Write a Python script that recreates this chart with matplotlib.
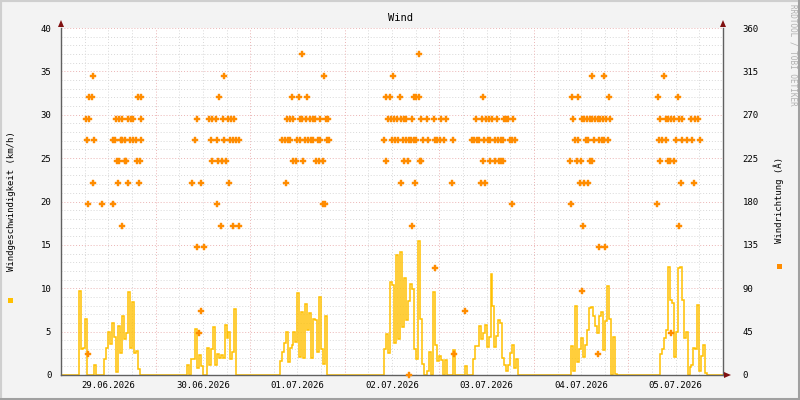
import numpy as np
import matplotlib
matplotlib.use("Agg")
import matplotlib.pyplot as plt
from matplotlib.patches import Rectangle, Polygon

# ---------------- data ----------------
title = "Wind"
left_label = "Windgeschwindigkeit (km/h)"
right_label = "Windrichtung (Â)"
day_labels = ["29.06.2026", "30.06.2026", "01.07.2026", "02.07.2026",
              "03.07.2026", "04.07.2026", "05.07.2026"]

# wind speed (km/h), half-hourly values per day (00:00 .. 23:30)
speed_29_06 = [0]*9 + [9.7, 3.0, 3.1, 6.5, 0, 0, 0, 0, 1.2, 0, 0, 0, 0, 1.8, 3.1, 4.9, 3.6,
                       6.0, 4.4, 0.3, 5.6, 2.5, 6.8, 4.1, 4.8, 9.6, 3.1, 8.4, 2.5, 2.8, 0.7] + [0]*8
speed_30_06 = [0]*16 + [1.2, 0, 1.9, 1.9, 5.3, 0.8, 2.3, 1.0, 0, 0, 3.1, 1.2, 3.0, 5.5, 1.2, 2.4,
                        2.0, 2.3, 2.0, 5.8, 4.3, 5.0, 1.8, 2.7, 7.6] + [0]*7
speed_01_07 = [0]*15 + [1.6, 2.6, 3.7, 5.0, 1.5, 3.1, 3.5, 4.9, 3.8, 9.4, 2.1, 7.3, 2.0, 8.2, 5.2,
                        7.1, 2.0, 6.5, 6.3, 2.6, 9.0, 3.0, 1.3, 6.8] + [0]*9
speed_02_07 = [0]*20 + [3.0, 4.7, 2.5, 10.7, 10.4, 3.7, 13.8, 4.1, 14.2, 5.5, 11.2, 6.3, 8.5, 10.5,
                        9.9, 3.0, 1.8, 15.5, 6.5, 1.3, 0, 0, 0.5, 2.6, 0, 9.6, 3.5, 1.6]
speed_03_07 = [2.2, 1.7, 0, 1.7, 0, 0, 0, 2.9, 0, 0, 0, 0, 0, 1.0, 0, 0, 0, 1.9, 3.3, 3.3, 5.6, 4.1,
               4.8, 5.8, 3.2, 4.4, 11.7, 8.0, 3.2, 4.5, 6.3, 6.0, 2.0, 1.1, 0.5, 1.1, 2.5, 3.5, 0.8,
               1.8] + [0]*8
speed_04_07 = [0]*19 + [3.3, 0.5, 8.0, 1.5, 3.0, 4.3, 2.1, 3.5, 5.2, 7.7, 7.8, 6.8, 5.6, 4.8, 6.8,
                        7.3, 2.9, 6.2, 10.3, 6.5, 0, 4.4, 0.1] + [0]*6
speed_05_07 = [0]*16 + [2.4, 3.0, 4.3, 5.2, 12.5, 8.6, 8.3, 2.1, 5.0, 12.3, 12.4, 8.6, 4.3, 5.0, 0,
                        0.9, 1.2, 3.1, 3.0, 8.1, 0.5, 2.2, 3.5, 0.2] + [0]*8

# wind direction (degrees): {direction: [hour of day, ...]} per day
dir_29_06 = {310: [8.07], 288: [7.23, 7.92, 19.59, 20.42],
             266: [6.22, 7.05, 14.0, 14.84, 15.53, 17.05, 17.89, 18.32, 20.25],
             244: [6.55, 8.32, 13.32, 13.65, 15.1, 15.6, 16.36, 17.56, 18.22, 19.15, 20.25],
             222: [14.16, 14.66, 16.19, 16.54, 19.23, 19.99], 199: [8.07, 14.41, 16.95, 19.74],
             177: [6.8, 10.35, 13.14], 155: [15.42], 22: [6.8]}
dir_30_06 = {310: [17.3], 288: [16.03],
             266: [10.45, 13.67, 14.36, 15.37, 17.05, 18.42, 19.18, 20.02],
             244: [10.12, 14.0, 15.53, 17.48, 18.87, 19.59, 20.35, 21.2],
             222: [14.26, 15.78, 16.8, 17.81], 199: [9.18, 11.47, 18.62], 177: [15.53],
             155: [16.54, 19.59, 21.12], 133: [10.63, 12.41], 66: [11.63], 44: [11.12]}
dir_01_07 = {333: [13.09], 310: [18.67], 288: [10.55, 12.33, 14.36],
             266: [9.39, 10.15, 10.81, 12.58, 13.27, 14.11, 15.22, 15.88, 16.49, 17.66, 19.28, 19.86],
             244: [8.12, 8.88, 9.54, 10.22, 11.82, 12.69, 13.95, 14.61, 15.47, 16.06, 17.15, 17.83,
                   19.53, 20.12],
             222: [10.91, 11.57, 13.35, 16.64, 17.38, 18.52], 199: [9.03], 177: [18.6, 19.1]}
dir_02_07 = {333: [18.77], 310: [12.18], 288: [10.58, 11.42, 14.13, 17.5, 18.19, 18.87],
             266: [10.91, 11.77, 12.61, 13.37, 14.38, 14.97, 15.48, 17.1, 19.28, 20.8, 22.58],
             244: [9.89, 12.1, 12.79, 13.48, 14.8, 15.63, 16.21, 16.82, 17.48, 18.16, 19.76, 21.2,
                   22.9, 23.54],
             222: [10.4, 14.97, 15.99, 19.03, 19.46], 199: [14.2, 17.76], 155: [16.97],
             111: [22.83], 0: [16.21]}
dir_03_07 = {288: [11.01],
             266: [0.36, 1.62, 9.23, 10.76, 11.95, 12.71, 13.4, 14.66, 16.34, 17.02, 17.53, 18.8],
             244: [0.2, 1.12, 3.4, 8.22, 8.9, 9.59, 10.1, 11.26, 12.38, 12.89, 14.16, 14.92, 15.58,
                   16.19, 17.86, 18.54, 19.3],
             222: [11.01, 12.79, 14.16, 15.17, 15.68, 16.19], 199: [3.15, 10.5, 11.52],
             177: [18.37], 66: [6.44], 22: [3.65]}
dir_04_07 = {310: [14.66, 17.71], 288: [9.59, 11.29, 18.98],
             266: [10.02, 12.23, 12.81, 13.5, 14.16, 14.84, 15.53, 16.19, 16.87, 17.56, 18.22, 19.23],
             244: [10.35, 11.21, 13.24, 13.65, 15.17, 16.62, 17.2, 17.71, 18.83],
             222: [9.08, 11.03, 12.05, 14.16, 14.76], 199: [11.82, 12.84, 13.85], 177: [9.33],
             155: [12.38], 133: [16.62, 18.14], 87: [12.3], 22: [16.3]}
dir_05_07 = {310: [8.93], 288: [7.41, 12.48],
             266: [8.09, 9.44, 10.12, 10.81, 11.47, 12.84, 13.5, 15.96, 16.79, 17.66],
             244: [7.76, 8.52, 9.44, 11.97, 13.5, 14.87, 16.14, 18.07],
             222: [8.09, 9.95, 10.63, 11.47], 199: [13.24, 16.54], 177: [7.15], 155: [12.74],
             44: [10.88]}

# ---------------- styling ----------------
BG = "#F3F3F3"
YELLOW = "#FFC000"
ORANGE = "#FF8C00"
MINOR = "#D8D8D8"
MAJOR = "#EBB4B4"
AXIS = "#606060"
ARROW = "#801010"
FONT = "DejaVu Sans Mono"
FS = 6.5
W, H = 800, 400
DOT = (0, (1, 2))

plt.rcParams["font.family"] = [FONT, "DejaVu Sans"]

fig = plt.figure(figsize=(8, 4), dpi=100, facecolor=BG)
L, R, T, B = 61, 723, 28, 375
ax = fig.add_axes([L / W, 1 - B / H, (R - L) / W, (B - T) / H])
ax.set_facecolor("white")

speed = np.concatenate([speed_29_06, speed_30_06, speed_01_07, speed_02_07,
                        speed_03_07, speed_04_07, speed_05_07]).astype(float)
t = np.arange(len(speed) + 1) * 0.5
ax.step(t, np.append(speed, speed[-1]), where="post", color=YELLOW, lw=1.1, zorder=3,
        solid_joinstyle="miter")

ax.set_xlim(0, 168)
ax.set_ylim(0, 40)

# grid
for v in range(1, 40):
    if v % 5:
        ax.axhline(v, color=MINOR, lw=0.7, ls=DOT, zorder=1)
for v in range(5, 41, 5):
    ax.axhline(v, color=MAJOR, lw=0.7, ls=DOT, zorder=1)
for h in range(6, 168, 6):
    if h % 24:
        ax.axvline(h, color=MINOR, lw=0.7, ls=DOT, zorder=1)
for h in range(24, 168, 24):
    ax.axvline(h, color=MAJOR, lw=0.7, ls=DOT, zorder=1)

ax.spines["top"].set_visible(False)
for s in ["left", "right", "bottom"]:
    ax.spines[s].set_color(AXIS)
    ax.spines[s].set_linewidth(1.0)
    ax.spines[s].set_zorder(4)

ax.set_yticks(range(0, 41, 5))
ax.set_yticklabels([str(v) for v in range(0, 41, 5)])
ax.set_xticks([12 + 24 * k for k in range(7)])
ax.set_xticklabels(day_labels)
ax.tick_params(axis="both", length=0, labelsize=FS, colors="black", pad=4)
ax.tick_params(axis="y", pad=7)

ax2 = ax.twinx()
ax2.set_ylim(0, 360)
ax2.set_yticks(range(0, 361, 45))
ax2.tick_params(axis="y", length=0, labelsize=FS, pad=14)
for s in ax2.spines.values():
    s.set_visible(False)

dirs = [dir_29_06, dir_30_06, dir_01_07, dir_02_07, dir_03_07, dir_04_07, dir_05_07]
for d, dd in enumerate(dirs):
    for deg, hours in dd.items():
        ax2.plot([24 * d + h for h in hours], [deg] * len(hours), ls="none", marker="P",
                 ms=4.2, mfc=ORANGE, mec=ORANGE, mew=0.3, zorder=5, clip_on=False)

# titles / labels
fig.text(400 / W, 1 - 18 / H, title, ha="center", va="center", fontsize=7.5)
fig.text(12 / W, 1 - 201 / H, left_label, rotation=90, ha="center", va="center", fontsize=FS)
fig.text(779 / W, 1 - 200 / H, right_label, rotation=90, ha="center", va="center", fontsize=FS)
fig.text(793 / W, 1 - 55 / H, "RRDTOOL / TOBI OETIKER", rotation=270, ha="center", va="center",
         fontsize=5.5, color="#B0B0B0")

# legend squares
fig.patches.append(Rectangle((8 / W, 1 - 303 / H), 5 / W, 5 / H, transform=fig.transFigure,
                             color=YELLOW, lw=0))
fig.patches.append(Rectangle((776.5 / W, 1 - 269 / H), 5 / W, 5 / H, transform=fig.transFigure,
                             color=ORANGE, lw=0))

# arrows
def tri(pts):
    fig.patches.append(Polygon([(x / W, 1 - y / H) for x, y in pts], closed=True,
                               transform=fig.transFigure, color=ARROW, lw=0))
tri([(58, 27), (64, 27), (61, 20)])
tri([(720, 27), (726, 27), (723, 20)])
tri([(724, 372), (724, 378), (731, 375)])

# frame
fig.patches.append(Rectangle((0, 0), 1, 1, transform=fig.transFigure, fill=False,
                             ec="#CFCFCF", lw=3))
fig.patches.append(Rectangle((0, 0), 1, 2.5 / H, transform=fig.transFigure, color="#A0A0A0", lw=0))
fig.patches.append(Rectangle((1 - 2.5 / W, 0), 2.5 / W, 1, transform=fig.transFigure,
                             color="#A0A0A0", lw=0))

fig.savefig("out.png", dpi=100, facecolor=BG)
